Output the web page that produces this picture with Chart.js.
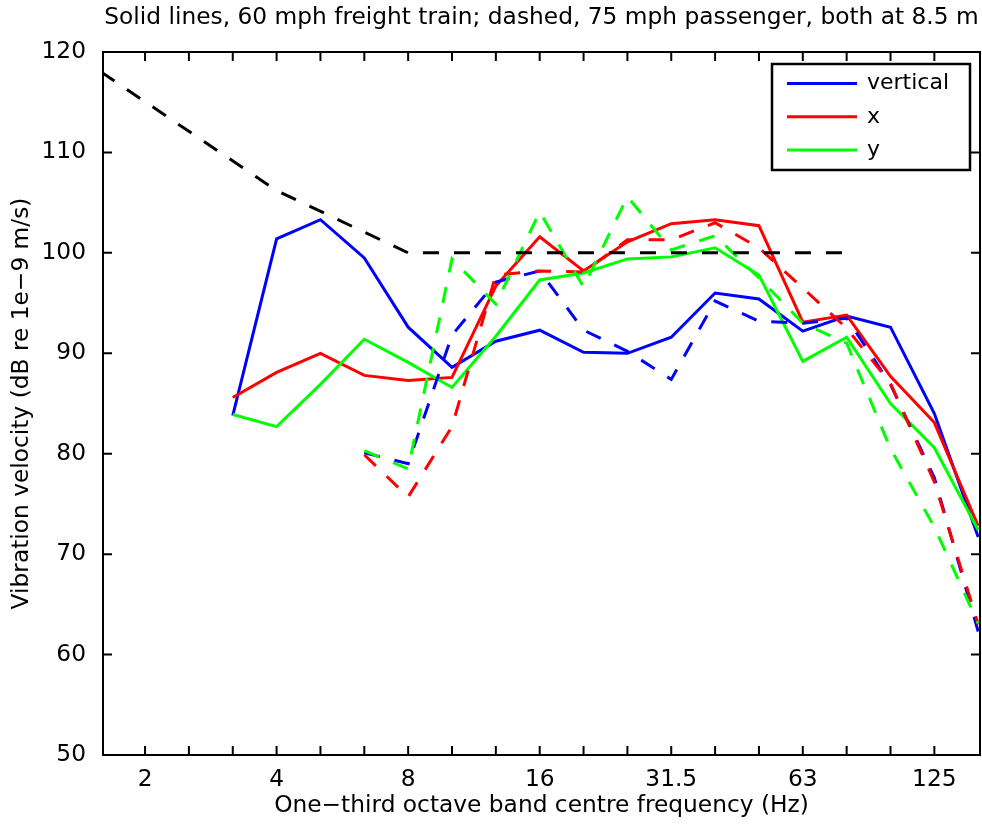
<!DOCTYPE html>
<html>
<head>
<meta charset="utf-8">
<script src="https://cdn.jsdelivr.net/npm/chart.js@4.4.0/dist/chart.umd.min.js"></script>
<style>
  html, body { margin: 0; padding: 0; background: #fff; }
</style>
</head>
<body>
<canvas id="chart" width="982" height="825"></canvas>
<script>
// one-third octave bands, index 0 = 1.6 Hz
const bands = ['1.6', '2', '2.5', '3.15', '4', '5', '6.3', '8', '10', '12.5', '16', '20', '25', '31.5', '40', '50', '63', '80', '100', '125', '160'];
const labelledBands = ['2', '4', '8', '16', '31.5', '63', '125'];
const yTicks = [50, 60, 70, 80, 90, 100, 110, 120];

// solid lines: 60 mph freight train, from 3.15 Hz up
const freightStart = '3.15';
const freightVertical = [83.8, 101.4, 103.3, 99.5, 92.6, 88.6, 91.2, 92.3, 90.1, 90.0, 91.6, 96.0, 95.4, 92.2, 93.7, 92.6, 84.0, 71.7];
const freightX = [85.6, 88.1, 90.0, 87.8, 87.3, 87.6, 96.7, 101.6, 98.2, 101.1, 102.9, 103.3, 102.7, 93.1, 93.8, 87.7, 83.1, 72.8];
const freightY = [83.9, 82.7, 86.9, 91.4, 89.1, 86.6, 91.7, 97.3, 98.0, 99.4, 99.6, 100.5, 97.8, 89.2, 91.6, 85.0, 80.6, 72.4];

// dashed lines: 75 mph passenger, from 6.3 Hz up
const passengerStart = '6.3';
const passengerVertical = [80.1, 79.0, 91.8, 97.1, 98.2, 92.3, 90.2, 87.4, 95.2, 93.2, 93.0, 93.5, 86.9, 77.6, 62.3];
const passengerX = [79.9, 75.7, 82.7, 97.8, 98.2, 98.1, 101.3, 101.3, 103.0, 100.5, 96.5, 92.5, 87.0, 77.2, 63.0];
const passengerY = [80.3, 78.5, 99.4, 94.9, 104.1, 96.6, 105.6, 100.3, 101.7, 97.5, 93.0, 91.0, 80.5, 72.7, 63.1];

// black dashed criterion curve (corner points)
const criterionBands = ['1.6', '4', '8', '80'];
const criterionValues = [118.0, 106.2, 100, 100];

function seriesPoints(start, values) {
  const i0 = bands.indexOf(start);
  return values.map((v, i) => ({ x: i0 + i, y: v }));
}

const DASH = [16, 15];
const FONT = '"DejaVu Sans", Verdana, sans-serif';
const TXT = 23.3;
Chart.defaults.font.family = FONT;
Chart.defaults.color = '#000';

function line(label, data, color, dashed, inLegend) {
  return {
    label: label,
    data: data,
    borderColor: color,
    backgroundColor: color,
    borderWidth: 3,
    borderDash: dashed ? DASH : [],
    pointRadius: 0,
    tension: 0,
    fill: false,
    clip: 0,
    inLegend: inLegend
  };
}

// first in the list is drawn on top
const datasets = [
  line('criterion', criterionBands.map((b, i) => ({ x: bands.indexOf(b), y: criterionValues[i] })), '#000000', true, false),
  line('y passenger', seriesPoints(passengerStart, passengerY), '#00ff00', true, false),
  line('x passenger', seriesPoints(passengerStart, passengerX), '#ff0000', true, false),
  line('vertical passenger', seriesPoints(passengerStart, passengerVertical), '#0000ff', true, false),
  line('y', seriesPoints(freightStart, freightY), '#00ff00', false, true),
  line('x', seriesPoints(freightStart, freightX), '#ff0000', false, true),
  line('vertical', seriesPoints(freightStart, freightVertical), '#0000ff', false, true)
];

// box with inward tick marks on all four sides, matlab style
const framePlugin = {
  id: 'frame',
  afterDatasetsDraw(chart) {
    const { ctx, chartArea: ca, scales } = chart;
    const tl = 9;
    ctx.save();
    ctx.strokeStyle = '#000';
    ctx.lineWidth = 2;
    ctx.beginPath();
    for (let i = 1; i < bands.length - 1; i++) {
      const px = scales.x.getPixelForValue(i);
      ctx.moveTo(px, ca.bottom); ctx.lineTo(px, ca.bottom - tl);
      ctx.moveTo(px, ca.top); ctx.lineTo(px, ca.top + tl);
    }
    yTicks.forEach(v => {
      const py = scales.y.getPixelForValue(v);
      ctx.moveTo(ca.left, py); ctx.lineTo(ca.left + tl, py);
      ctx.moveTo(ca.right, py); ctx.lineTo(ca.right - tl, py);
    });
    ctx.stroke();
    ctx.strokeRect(ca.left, ca.top, ca.right - ca.left, ca.bottom - ca.top);
    ctx.restore();
  }
};

const legendPlugin = {
  id: 'boxLegend',
  afterDraw(chart) {
    const { ctx, chartArea: ca } = chart;
    const items = chart.data.datasets.filter(d => d.inLegend).reverse();
    const w = 198, h = 106;
    const left = ca.right - w - 10, top = ca.top + 12;
    ctx.save();
    ctx.fillStyle = '#fff';
    ctx.fillRect(left, top, w, h);
    ctx.strokeStyle = '#000';
    ctx.lineWidth = 2.5;
    ctx.strokeRect(left, top, w, h);
    ctx.font = '22px ' + FONT;
    ctx.textBaseline = 'middle';
    items.forEach((d, i) => {
      const y = top + 19.5 + i * 33.3;
      ctx.strokeStyle = d.borderColor;
      ctx.lineWidth = 3;
      ctx.beginPath();
      ctx.moveTo(left + 15, y);
      ctx.lineTo(left + 85, y);
      ctx.stroke();
      ctx.fillStyle = '#000';
      ctx.fillText(d.label, left + 95, y);
    });
    ctx.restore();
  }
};

new Chart(document.getElementById('chart'), {
  type: 'line',
  data: { datasets: datasets },
  options: {
    responsive: false,
    devicePixelRatio: 1,
    animation: false,
    layout: { padding: { left: 0, right: 2, top: 0, bottom: 0 } },
    plugins: {
      legend: { display: false },
      tooltip: { enabled: false },
      title: {
        display: true,
        fullSize: false,
        text: 'Solid lines, 60 mph freight train; dashed, 75 mph passenger, both at 8.5 m',
        font: { size: TXT, weight: 'normal', lineHeight: 1.2 },
        color: '#000',
        padding: { top: 4.2, bottom: 19.84 }
      }
    },
    scales: {
      x: {
        type: 'linear',
        min: 0.041,
        max: 20.041,
        afterFit(s) { s.height = 70; },
        afterBuildTicks(s) {
          s.ticks = labelledBands.map(b => ({ value: bands.indexOf(b) }));
        },
        ticks: {
          autoSkip: false,
          maxRotation: 0,
          padding: 11,
          font: { size: TXT, lineHeight: 1.2 },
          color: '#000',
          callback: (v) => bands[v]
        },
        grid: { display: false, drawTicks: false },
        border: { display: false },
        title: {
          display: true,
          text: 'One\u2212third octave band centre frequency (Hz)',
          font: { size: TXT, lineHeight: 1.2 },
          color: '#000',
          padding: { top: 0, bottom: 5 }
        }
      },
      y: {
        min: 50,
        max: 120,
        afterFit(s) { s.width = 103; },
        ticks: {
          stepSize: 10,
          padding: 17,
          font: { size: TXT },
          color: '#000'
        },
        grid: { display: false, drawTicks: false },
        border: { display: false },
        title: {
          display: true,
          text: 'Vibration velocity (dB re 1e\u22129 m/s)',
          font: { size: TXT, lineHeight: 1.2 },
          color: '#000',
          padding: { top: 8.2, bottom: 0 }
        }
      }
    }
  },
  plugins: [framePlugin, legendPlugin]
});
</script>
</body>
</html>
